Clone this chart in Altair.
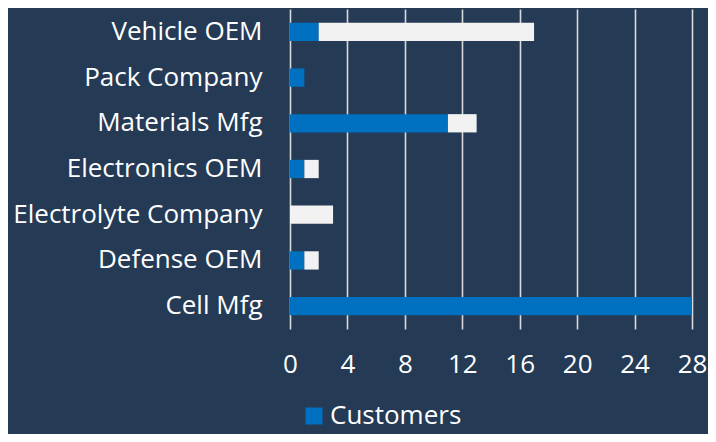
import altair as alt
import pandas as pd

categories = ["Vehicle OEM", "Pack Company", "Materials Mfg", "Electronics OEM",
              "Electrolyte Company", "Defense OEM", "Cell Mfg"]
customers = [2, 1, 11, 1, 0, 1, 28]
others = [15, 0, 2, 1, 3, 1, 0]
series_names = ["Customers", "Other"]
x_ticks = [0, 4, 8, 12, 16, 20, 24, 28]

rows = []
for c, a, b in zip(categories, customers, others):
    rows.append({"category": c, "series": series_names[0], "value": a, "ord": 0})
    rows.append({"category": c, "series": series_names[1], "value": b, "ord": 1})
df = pd.DataFrame(rows)

FONT = "Open Sans"
BG = "#243A55"

chart = alt.Chart(df).mark_bar().encode(
    y=alt.Y("category:N", sort=categories,
            scale=alt.Scale(paddingInner=0.6, paddingOuter=0.3),
            axis=alt.Axis(title=None, ticks=False, domain=False, labelPadding=28,
                          labelFontSize=26, labelColor="#FFFFFF", labelFont=FONT,
                          labelLimit=0, grid=False)),
    x=alt.X("value:Q", stack="zero",
            scale=alt.Scale(domain=[0, 28], nice=False),
            axis=alt.Axis(title=None, values=x_ticks, ticks=False, domain=False,
                          labelPadding=22, labelFontSize=26, labelColor="#FFFFFF",
                          labelFont=FONT, labelFlush=False, grid=True,
                          gridColor="#D9D9D9", gridWidth=1.6)),
    color=alt.Color("series:N",
                    scale=alt.Scale(domain=series_names, range=["#0070C0", "#F2F2F2"]),
                    legend=alt.Legend(title=None, values=["Customers"], orient="none",
                                      legendX=11, legendY=394, symbolType="square",
                                      symbolSize=289, symbolStrokeWidth=0,
                                      labelFontSize=26, labelColor="#FFFFFF",
                                      labelFont=FONT, labelOffset=3)),
    order=alt.Order("ord:Q"),
).properties(
    width=402, height=320,
    background=BG,
    autosize=alt.AutoSizeParams(type="none"),
    padding={"left": 282, "top": 1, "right": 16, "bottom": 105},
).configure_view(stroke=None)

chart.save("out.html", embed_options={"renderer": "svg", "actions": False})
